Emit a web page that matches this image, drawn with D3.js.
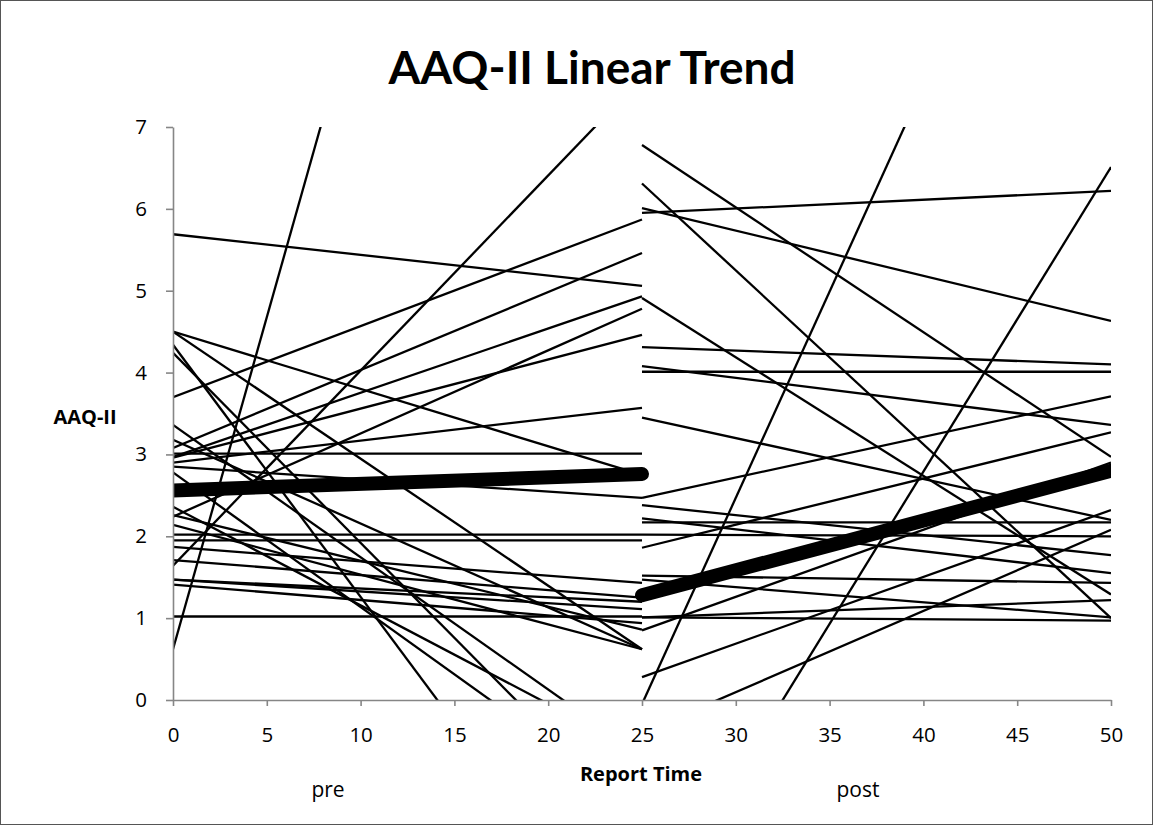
<!DOCTYPE html>
<html>
<head>
<meta charset="utf-8">
<script src="https://cdn.jsdelivr.net/npm/d3@7"></script>
<style>
  body { margin: 0; background: #fff; }
  svg { display: block; font-family: "Open Sans", "Lato", sans-serif; }
</style>
</head>
<body>
<svg width="1153" height="825"></svg>
<script>
// Individual linear trends, pre phase (x 0 -> 25): value at start, value at end
const preStart = [5.69, 0.62, 1.64, 3.70, 4.50, 4.50, 4.34, 4.24, 3.08, 2.97, 2.24, 2.96, 2.90, 3.01, 2.85,
                  3.36, 3.18, 2.78, 2.36, 2.02, 1.95, 1.87, 1.71, 2.14, 1.47, 1.41, 1.02, 1.47, 2.26];
const preEnd   = [5.06, 20.9, 7.60, 5.87, 2.75, 0.62, -3.36, -1.56, 5.46, 4.93, 4.78, 4.46, 3.57, 3.01, 2.47,
                  -0.68, 0.62, -1.33, -0.65, 2.02, 1.95, 1.43, 1.25, 0.62, 1.11, 0.94, 1.02, 1.20, 0.86];

// Individual linear trends, post phase (x 25 -> 50)
const postStart = [6.78, 6.31, 6.01, 5.95, -0.05, -2.79, 4.91, 4.31, 4.08, 4.01, 2.47, 3.45, 2.38, 2.17,
                   2.02, 1.86, 1.52, 1.47, 1.01, 1.01, 0.85, 0.28, -0.40, 2.22];
const postEnd   = [2.97, 1.00, 4.63, 6.22, 12.55, 6.51, 1.29, 4.10, 3.36, 4.01, 3.71, 2.20, 1.77, 2.17,
                   2.00, 3.27, 1.43, 1.01, 0.97, 1.22, 2.90, 2.32, 2.08, 1.55];

// Group mean trends
const meanPre = [2.56, 2.76];
const meanPost = [1.28, 2.80];

const xTicks = [0, 5, 10, 15, 20, 25, 30, 35, 40, 45, 50];
const yTicks = [0, 1, 2, 3, 4, 5, 6, 7];

const svg = d3.select("svg"),
  width = +svg.attr("width"),
  height = +svg.attr("height");

const x = d3.scaleLinear().domain([0, 50]).range([173, 1111]);
const y = d3.scaleLinear().domain([0, 7]).range([700, 127]);

// chart frame
svg.append("rect")
  .attr("x", 0.5).attr("y", 0.5)
  .attr("width", width - 1).attr("height", height - 1)
  .attr("fill", "#fff")
  .attr("stroke", "#555");

svg.append("clipPath").attr("id", "plot")
  .append("rect")
  .attr("x", x(0)).attr("y", y(7))
  .attr("width", x(50) - x(0)).attr("height", y(0) - y(7));

const line = d3.line().x(d => x(d[0])).y(d => y(d[1]));

const segs = [];
preStart.forEach((v, i) => segs.push([[0, v], [25, preEnd[i]]]));
postStart.forEach((v, i) => segs.push([[25, v], [50, postEnd[i]]]));

const plot = svg.append("g").attr("clip-path", "url(#plot)");

plot.selectAll(".trend")
  .data(segs)
  .join("path")
  .attr("class", "trend")
  .attr("d", line)
  .attr("fill", "none")
  .attr("stroke", "#000")
  .attr("stroke-width", 2.3);

plot.selectAll(".mean")
  .data([[[0, meanPre[0]], [25, meanPre[1]]], [[25, meanPost[0]], [50, meanPost[1]]]])
  .join("path")
  .attr("class", "mean")
  .attr("d", line)
  .attr("fill", "none")
  .attr("stroke", "#000")
  .attr("stroke-width", 14)
  .attr("stroke-linecap", "round");

// axes
const yAxis = svg.append("g")
  .attr("transform", `translate(${x(0)},0)`)
  .call(d3.axisLeft(y).tickValues(yTicks).tickFormat(d3.format("d"))
    .tickSize(7).tickPadding(19).tickSizeOuter(0));

const xAxis = svg.append("g")
  .attr("transform", `translate(0,${y(0)})`)
  .call(d3.axisBottom(x).tickValues(xTicks).tickSize(6).tickPadding(21).tickSizeOuter(0));

[xAxis, yAxis].forEach(g => {
  g.selectAll("path, line").attr("stroke", "#868686").attr("stroke-width", 1.6);
  g.selectAll("text")
    .attr("fill", "#000")
    .style("font-size", "20.5px")
    .style("font-family", "'Open Sans', sans-serif");
});

// titles
svg.append("text")
  .attr("x", 592).attr("y", 84)
  .attr("text-anchor", "middle")
  .style("font-family", "Lato, sans-serif")
  .style("font-size", "46px")
  .style("font-weight", "bold")
  .text("AAQ-II Linear Trend");

svg.append("text")
  .attr("x", 85).attr("y", 424)
  .attr("text-anchor", "middle")
  .style("font-size", "20px")
  .style("font-weight", "bold")
  .text("AAQ-II");

svg.append("text")
  .attr("x", 641).attr("y", 781)
  .attr("text-anchor", "middle")
  .style("font-size", "20px")
  .style("font-weight", "bold")
  .text("Report Time");

svg.append("text")
  .attr("x", 328).attr("y", 797)
  .attr("text-anchor", "middle")
  .style("font-size", "21px")
  .text("pre");

svg.append("text")
  .attr("x", 858).attr("y", 797)
  .attr("text-anchor", "middle")
  .style("font-size", "21px")
  .text("post");
</script>
</body>
</html>
